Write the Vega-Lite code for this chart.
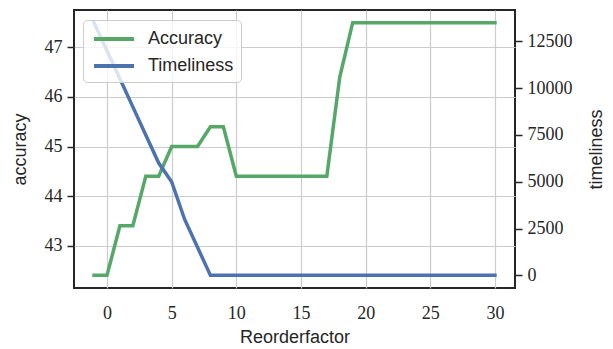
{
  "$schema": "https://vega.github.io/schema/vega-lite/v6.json",
  "width": 441,
  "height": 278,
  "autosize": {"type": "none"},
  "padding": {"left": 74, "top": 10, "right": 98, "bottom": 61},
  "background": "white",
  "config": {
    "view": {"stroke": "#262626", "strokeWidth": 2},
    "axis": {
      "domain": false,
      "gridColor": "#cccccc",
      "gridWidth": 1.2,
      "tickColor": "#262626",
      "tickWidth": 1.5,
      "tickSize": 7,
      "labelFont": "Liberation Serif",
      "labelFontSize": 18,
      "labelColor": "#262626",
      "titleFont": "Liberation Sans",
      "titleFontSize": 18,
      "titleFontWeight": "normal",
      "titleColor": "#262626"
    }
  },
  "data": {
    "values": [
      {"x": -1, "accuracy": 42.4, "timeliness": 13500},
      {"x": 0, "accuracy": 42.4, "timeliness": 12000},
      {"x": 1, "accuracy": 43.4, "timeliness": 10500},
      {"x": 2, "accuracy": 43.4, "timeliness": 9000},
      {"x": 3, "accuracy": 44.4, "timeliness": 7500},
      {"x": 4, "accuracy": 44.4, "timeliness": 6000},
      {"x": 5, "accuracy": 45.0, "timeliness": 5000},
      {"x": 6, "accuracy": 45.0, "timeliness": 3000},
      {"x": 7, "accuracy": 45.0, "timeliness": 1500},
      {"x": 8, "accuracy": 45.4, "timeliness": 0},
      {"x": 9, "accuracy": 45.4, "timeliness": 0},
      {"x": 10, "accuracy": 44.4, "timeliness": 0},
      {"x": 11, "accuracy": 44.4, "timeliness": 0},
      {"x": 12, "accuracy": 44.4, "timeliness": 0},
      {"x": 13, "accuracy": 44.4, "timeliness": 0},
      {"x": 14, "accuracy": 44.4, "timeliness": 0},
      {"x": 15, "accuracy": 44.4, "timeliness": 0},
      {"x": 16, "accuracy": 44.4, "timeliness": 0},
      {"x": 17, "accuracy": 44.4, "timeliness": 0},
      {"x": 18, "accuracy": 46.4, "timeliness": 0},
      {"x": 19, "accuracy": 47.5, "timeliness": 0},
      {"x": 20, "accuracy": 47.5, "timeliness": 0},
      {"x": 21, "accuracy": 47.5, "timeliness": 0},
      {"x": 22, "accuracy": 47.5, "timeliness": 0},
      {"x": 23, "accuracy": 47.5, "timeliness": 0},
      {"x": 24, "accuracy": 47.5, "timeliness": 0},
      {"x": 25, "accuracy": 47.5, "timeliness": 0},
      {"x": 26, "accuracy": 47.5, "timeliness": 0},
      {"x": 27, "accuracy": 47.5, "timeliness": 0},
      {"x": 28, "accuracy": 47.5, "timeliness": 0},
      {"x": 29, "accuracy": 47.5, "timeliness": 0},
      {"x": 30, "accuracy": 47.5, "timeliness": 0}
    ]
  },
  "layer": [
    {
      "mark": {"type": "line", "strokeWidth": 3.5, "strokeCap": "square"},
      "encoding": {
        "x": {
          "field": "x",
          "type": "quantitative",
          "scale": {"domain": [-2.55, 31.55], "nice": false, "zero": false},
          "axis": {
            "title": "Reorderfactor",
            "values": [0, 5, 10, 15, 20, 25, 30],
            "ticks": false,
            "labelPadding": 16,
            "titlePadding": 6,
            "grid": true
          }
        },
        "y": {
          "field": "accuracy",
          "type": "quantitative",
          "scale": {"domain": [42.145, 47.755], "nice": false, "zero": false},
          "axis": {
            "title": "accuracy",
            "values": [43, 44, 45, 46, 47],
            "labelPadding": 5,
            "titlePadding": 15,
            "grid": true
          }
        },
        "color": {
          "datum": "Accuracy",
          "scale": {"domain": ["Accuracy", "Timeliness"], "range": ["#55A868", "#4C72B0"]},
          "legend": {
            "title": null,
            "orient": "none",
            "legendX": 9,
            "legendY": 10,
            "symbolType": "M-2,0H2",
            "symbolSize": 400,
            "symbolStrokeWidth": 4,
            "symbolOffset": 12,
            "labelFont": "Liberation Sans",
            "labelFontSize": 18,
            "labelColor": "#262626",
            "fillColor": "rgba(255,255,255,0.8)",
            "strokeColor": "#cccccc",
            "cornerRadius": 4,
            "padding": 7,
            "rowPadding": 6,
            "labelOffset": 22
          }
        }
      }
    },
    {
      "mark": {"type": "line", "strokeWidth": 3.5, "strokeCap": "square"},
      "encoding": {
        "x": {"field": "x", "type": "quantitative"},
        "y": {
          "field": "timeliness",
          "type": "quantitative",
          "scale": {"domain": [-675, 14175], "nice": false, "zero": false},
          "axis": {
            "orient": "right",
            "title": "timeliness",
            "titleAngle": 270,
            "values": [0, 2500, 5000, 7500, 10000, 12500],
            "format": "d",
            "labelPadding": 5,
            "titlePadding": 33,
            "grid": false
          }
        },
        "color": {"datum": "Timeliness"}
      }
    }
  ],
  "resolve": {"scale": {"y": "independent"}}
}
